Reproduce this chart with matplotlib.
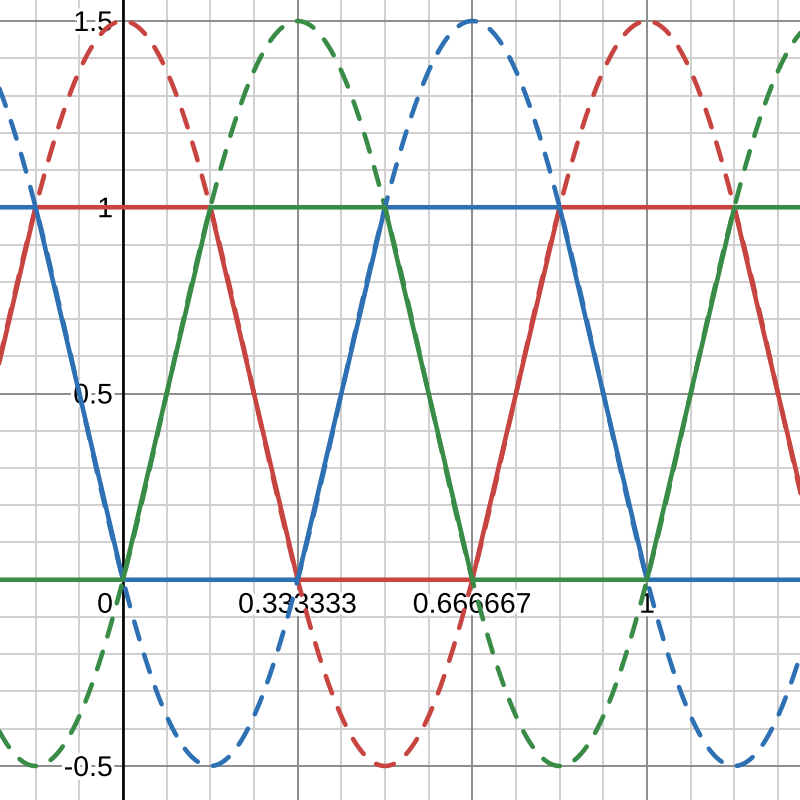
import numpy as np
import matplotlib
matplotlib.use('Agg')
import matplotlib.pyplot as plt
import matplotlib.patheffects as pe

# view window
x_min, x_max = -0.2347, 1.2920
y_min, y_max = -0.5913, 1.5564

# dashed sinusoids: peak position, amplitude and centre line
wave_peaks = [0.0, 1/3, 2/3]
wave_amp = 1.0
wave_mid = 0.5
wave_period = 1.0

# solid trapezoids: breakpoints
red_x = [-1/2, -1/3, -1/6, 1/6, 1/3, 2/3, 5/6, 7/6, 4/3, 3/2]
red_y = [0, 0, 1, 1, 0, 0, 1, 1, 0, 0]
blue_x = [-1/2, -1/6, 0, 1/3, 1/2, 5/6, 1, 4/3, 3/2]
blue_y = [1, 1, 0, 0, 1, 1, 0, 0, 1]
green_x = [-1/2, -1/3, 0, 1/6, 1/2, 2/3, 1, 7/6, 3/2]
green_y = [1, 0, 0, 1, 1, 0, 0, 1, 1]

x_ticks = [0, 1/3, 2/3, 1]
x_tick_labels = ['0', '0.333333', '0.666667', '1']
y_ticks = [-0.5, 0.5, 1, 1.5]
y_tick_labels = ['-0.5', '0.5', '1', '1.5']

RED = '#c74440'
BLUE = '#2d70b3'
GREEN = '#388c46'


def main():
    fig = plt.figure(figsize=(8, 8), dpi=100)
    ax = fig.add_axes([0, 0, 1, 1])
    ax.set_xlim(x_min, x_max)
    ax.set_ylim(y_min, y_max)
    ax.axis('off')

    # grid
    for xv in np.arange(-3, 17) / 12:
        major = abs(xv * 3 - round(xv * 3)) < 1e-9
        ax.axvline(xv, color='#8c8c8c' if major else '#cfcfcf', lw=1.4, zorder=1 if major else 0)
    for yv in np.arange(-6, 17) / 10:
        major = abs(yv * 2 - round(yv * 2)) < 1e-9
        ax.axhline(yv, color='#8c8c8c' if major else '#cfcfcf', lw=1.4, zorder=1 if major else 0)
    ax.axvline(0, color='black', lw=1.9, zorder=2)
    ax.axhline(0, color='black', lw=1.9, zorder=2)

    # tick labels with white halo
    halo = [pe.withStroke(linewidth=5, foreground='white')]
    font = dict(family=['Liberation Sans', 'DejaVu Sans'], fontsize=20.5, zorder=3, path_effects=halo)
    for xv, lab in zip(x_ticks, x_tick_labels):
        if xv == 0:
            ax.annotate(lab, (0, 0), xytext=(-10, -13), textcoords='offset pixels',
                        ha='right', va='top', **font)
        else:
            ax.annotate(lab, (xv, 0), xytext=(0, -13), textcoords='offset pixels',
                        ha='center', va='top', **font)
    for yv, lab in zip(y_ticks, y_tick_labels):
        ax.annotate(lab, (0, yv), xytext=(-10, 0), textcoords='offset pixels',
                    ha='right', va='center_baseline', **font)

    xs = np.linspace(x_min - 0.05, x_max + 0.05, 1200)
    colors = [RED, GREEN, BLUE]
    for peak, c in zip(wave_peaks, colors):
        ys = wave_mid + wave_amp * np.cos(2 * np.pi * (xs - peak) / wave_period)
        ax.plot(xs, ys, color=c, lw=3.3, dashes=(4.0, 3.5), dash_capstyle='round', zorder=4)

    ax.plot(red_x, red_y, color=RED, lw=3.3, solid_capstyle='round', zorder=5)
    ax.plot(blue_x, blue_y, color=BLUE, lw=3.3, solid_capstyle='round', zorder=5)
    ax.plot(green_x, green_y, color=GREEN, lw=3.3, solid_capstyle='round', zorder=5)

    fig.savefig('out.png', dpi=100)


if __name__ == '__main__':
    main()
